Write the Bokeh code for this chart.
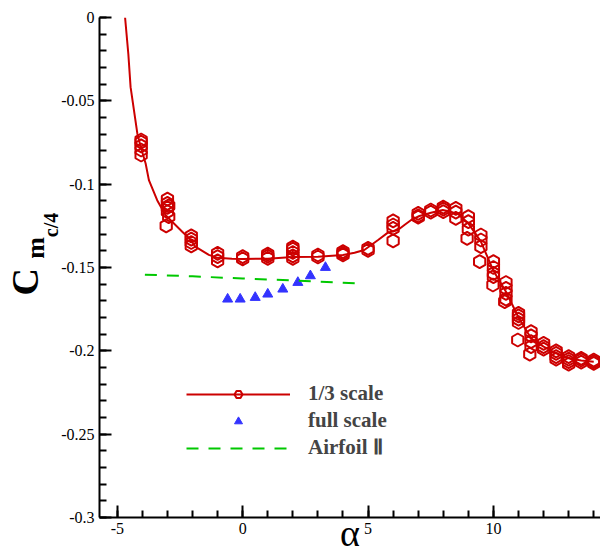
import math
from bokeh.plotting import figure
from bokeh.models import Legend, LegendItem, FixedTicker, Range1d, LinearAxis
from bokeh.embed import file_html
from bokeh.resources import INLINE

# ---- data ----
# 1/3 scale: fitted curve
alpha_fit = [-4.69, -4.56, -4.47, -4.2, -4.05, -3.87, -3.74, -3.41, -3.08, -2.88, -2.41, -2.06,
             -1.89, -1.35, -1.0, -0.43, 0.0, 1.0, 2.0, 3.0, 4.0, 4.46, 4.85, 5.4, 5.79, 6.19,
             6.45, 6.72, 7.05, 7.51, 7.98, 8.31, 8.6, 9.0, 9.5, 10.0, 10.5, 11.0, 11.5, 12.0,
             12.5, 13.0, 13.5, 14.0]
cm_fit = [0.0, -0.0219, -0.0418, -0.0697, -0.0785, -0.0876, -0.0976, -0.1096, -0.1185, -0.1215,
          -0.1285, -0.1335, -0.1375, -0.1424, -0.1442, -0.1448, -0.1449, -0.1447, -0.1437, -0.1436,
          -0.1425, -0.1412, -0.1395, -0.1335, -0.1291, -0.1275, -0.1245, -0.1215, -0.1191, -0.1172,
          -0.1155, -0.1166, -0.118, -0.1235, -0.1345, -0.152, -0.1645, -0.180, -0.1925, -0.1975,
          -0.2015, -0.2045, -0.2058, -0.2065]

# 1/3 scale: measured points (several runs)
alpha_third = [-4.05, -4.05, -4.05, -4.05, -4.05,
               -3.0, -3.0, -3.0, -3.0, -2.95, -2.95, -3.05,
               -2.05, -2.05, -2.05, -2.05,
               -1.0, -1.0, -1.0,
               0.0, 0.0,
               1.0, 1.0, 1.0,
               2.0, 2.0, 2.0, 2.0, 2.0,
               3.0, 3.0,
               4.0, 4.0, 4.0,
               5.0, 5.0,
               6.0, 6.0, 6.0, 6.0,
               7.0, 7.0, 7.0,
               7.5, 7.5,
               8.0, 8.0, 8.0,
               8.5, 8.5, 8.5,
               9.0, 9.0, 9.0, 8.95,
               9.5, 9.5, 9.5, 9.45,
               10.0, 10.0, 10.0, 10.0, 9.98,
               10.5, 10.5, 10.5, 10.5, 10.45,
               11.0, 11.0, 11.0, 11.0, 10.97,
               11.5, 11.5, 11.5, 11.5, 11.45,
               12.0, 12.0, 12.0,
               12.5, 12.5, 12.5, 12.5,
               13.0, 13.0, 13.0, 13.0,
               13.5, 13.5, 13.5,
               14.0, 14.0, 14.0]
cm_third = [-0.0735, -0.0748, -0.077, -0.0795, -0.0825,
            -0.109, -0.1115, -0.114, -0.1165, -0.113, -0.1195, -0.125,
            -0.131, -0.133, -0.135, -0.137,
            -0.1415, -0.1435, -0.146,
            -0.1435, -0.1448,
            -0.142, -0.1432, -0.1445,
            -0.1378, -0.139, -0.141, -0.143, -0.1445,
            -0.1425, -0.1437,
            -0.1405, -0.1415, -0.1425,
            -0.1385, -0.1397,
            -0.122, -0.1245, -0.1265, -0.134,
            -0.1175, -0.119, -0.1198,
            -0.1155, -0.1168,
            -0.1138, -0.115, -0.1165,
            -0.1145, -0.1168, -0.1205,
            -0.1195, -0.1225, -0.127, -0.1325,
            -0.1305, -0.1335, -0.1375, -0.1465,
            -0.1465, -0.150, -0.1535, -0.1555, -0.1605,
            -0.159, -0.1625, -0.1655, -0.169, -0.1705,
            -0.1775, -0.179, -0.181, -0.183, -0.1935,
            -0.1885, -0.191, -0.1945, -0.1975, -0.202,
            -0.1955, -0.1975, -0.199,
            -0.200, -0.2015, -0.2035, -0.205,
            -0.2035, -0.205, -0.2065, -0.208,
            -0.2045, -0.2055, -0.2068,
            -0.2055, -0.2065, -0.2075]

# full scale
alpha_full = [-0.6, -0.1, 0.5, 1.0, 1.6, 2.2, 2.7, 3.3]
cm_full = [-0.169, -0.169, -0.168, -0.166, -0.163, -0.159, -0.155, -0.150]

# Airfoil II
alpha_airfoil = [-3.9, -2.0, 0.0, 2.0, 4.0, 4.5, 4.75]
cm_airfoil = [-0.1543, -0.1553, -0.1566, -0.1578, -0.1591, -0.1595, -0.1605]

x_ticks = [-5, 0, 5, 10]
x_tick_labels = ["-5", "0", "5", "10"]
y_ticks = [0.0, -0.05, -0.1, -0.15, -0.2, -0.25, -0.3]
y_tick_labels = ["0", "-0.05", "-0.1", "-0.15", "-0.2", "-0.25", "-0.3"]
series_labels = ["1/3 scale", "full scale", "Airfoil \u2161"]
x_title = "\u03b1"
y_title_parts = ["C", "m", "c/4"]

RED = "#cc0000"
BLUE = "#3333ff"
GREEN = "#00c800"
SERIF = "Liberation Serif"
NB = "\u00a0"

assert len(alpha_third) == len(cm_third)

p = figure(width=600, height=556, output_backend="svg", toolbar_location=None,
           x_range=Range1d(-5.71, 14.27), y_range=Range1d(-0.3, 0.0),
           min_border_left=97, min_border_right=0, min_border_top=17,
           min_border_bottom=37)
p.outline_line_color = None
p.grid.visible = False

line_r = p.line(alpha_fit, cm_fit, line_color=RED, line_width=2)
hex_r = p.scatter(alpha_third, cm_third, marker="hex", size=13, angle=math.pi / 6,
                  fill_color=None, line_color=RED, line_width=2)
tri_r = p.scatter(alpha_full, cm_full, marker="triangle", size=10,
                  fill_color=BLUE, line_color=BLUE, line_width=1)
air_r = p.line(alpha_airfoil, cm_airfoil, line_color=GREEN, line_width=2, line_dash="12 10")

for ax in (p.xaxis[0], p.yaxis[0]):
    ax.axis_line_width = 2
    ax.axis_line_color = "black"
    ax.major_tick_in = 12
    ax.major_tick_out = 0
    ax.minor_tick_in = 7
    ax.minor_tick_out = 0
    ax.major_tick_line_width = 2
    ax.minor_tick_line_width = 2
    ax.major_label_text_font = SERIF
    ax.major_label_text_font_size = "16px"
    ax.major_label_text_color = "black"

p.xaxis[0].ticker = FixedTicker(ticks=x_ticks, minor_ticks=list(range(-5, 15)))
p.xaxis[0].major_label_overrides = {t: l for t, l in zip(x_ticks, x_tick_labels)}
p.xaxis[0].major_label_standoff = 5
p.xaxis[0].axis_label = x_title
p.xaxis[0].axis_label_text_font = SERIF
p.xaxis[0].axis_label_text_font_style = "normal"
p.xaxis[0].axis_label_text_font_size = "38px"
p.xaxis[0].axis_label_text_color = "black"
p.xaxis[0].axis_label_standoff = -25

p.yaxis[0].ticker = FixedTicker(ticks=y_ticks,
                                minor_ticks=[round(-0.01 * i, 2) for i in range(0, 31)])
p.yaxis[0].major_label_overrides = {t: l for t, l in zip(y_ticks, y_tick_labels)}
p.yaxis[0].major_label_standoff = 5

# y title C_{m_{c/4}}: three label-only axes stacked on the left, innermost first.
# non-breaking spaces shift each part along the (upward-reading) title direction
title_specs = [  # text, font size, label standoff
    (NB * 17 + y_title_parts[2], "20px", -3),
    (NB * 6 + y_title_parts[1], "26px", -13),
    (y_title_parts[0] + NB * 3, "38px", -28),
]
for txt, fs, so in title_specs:
    tax = LinearAxis(ticker=FixedTicker(ticks=[], minor_ticks=[]),
                     axis_label=txt, axis_label_standoff=so,
                     axis_label_text_font=SERIF, axis_label_text_font_style="bold",
                     axis_label_text_font_size=fs, axis_label_text_color="black",
                     axis_line_color=None, major_tick_line_color=None,
                     minor_tick_line_color=None, major_tick_in=0, major_tick_out=0,
                     minor_tick_in=0, minor_tick_out=0, major_label_standoff=0)
    p.add_layout(tax, "left")

legend = Legend(items=[LegendItem(label=series_labels[0], renderers=[line_r, hex_r]),
                       LegendItem(label=series_labels[1], renderers=[tri_r]),
                       LegendItem(label=series_labels[2], renderers=[air_r])],
                location=(87, 57), padding=0, margin=0, spacing=2,
                glyph_width=104, glyph_height=20, label_height=20, label_standoff=18,
                label_text_font=SERIF, label_text_font_style="bold",
                label_text_font_size="21px", border_line_color=None,
                background_fill_alpha=0)
p.add_layout(legend)

open("out.html", "w").write(file_html(p, INLINE))
